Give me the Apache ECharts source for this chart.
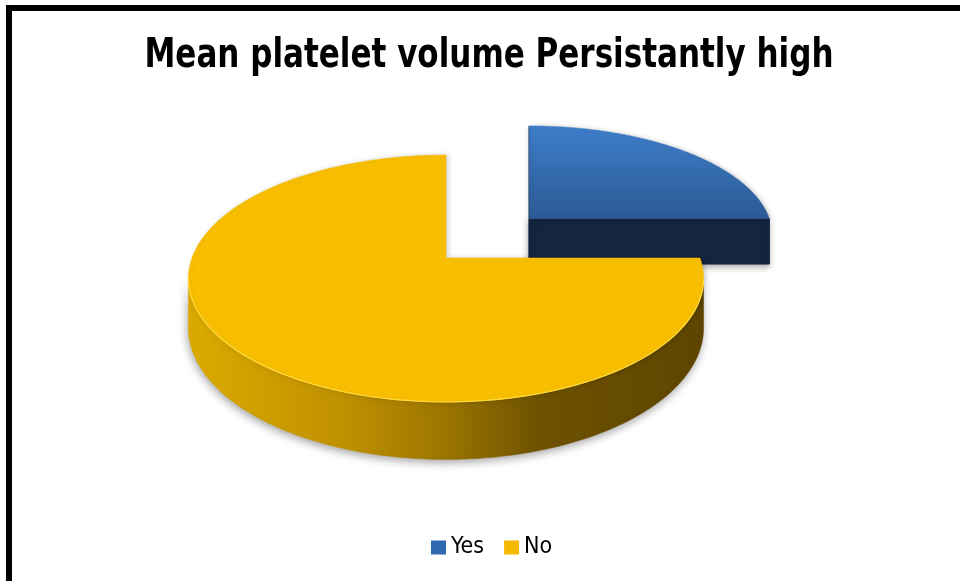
<!DOCTYPE html>
<html><head><meta charset="utf-8">
<script src="https://cdn.jsdelivr.net/npm/echarts@6/dist/echarts.min.js"></script>
<style>html,body{margin:0;padding:0;background:#fff}#c{width:960px;height:581px}</style>
</head><body><div id="c"></div>
<script>
// ---- data ----
const categories = ['Yes', 'No'];
const values = [25, 75];
const titleText = 'Mean platelet volume Persistantly high';

// ---- styles / geometry (not data) ----
const FONT = '"Liberation Sans Narrow", "DejaVu Sans Condensed", "Arial Narrow", sans-serif';
const CX = 446, AY = 258, RX = 254, A = 120, B = 0.166, H = 48;
const explode = [0.49, 0];
const legendColors = ['#2f69b0', '#f4b800'];
const G = echarts.graphic;
const topFills = [
  new G.LinearGradient(0, 125, 0, 218, [{offset:0,color:'#3e7eca'},{offset:1,color:'#2c5a96'}], true),
  '#f9be00'
];
const wallFills = [
  '#14253f',
  new G.LinearGradient(188, 0, 704, 0, [
    {offset:0,color:'#dcab00'},{offset:0.3,color:'#c09100'},{offset:0.5,color:'#9b7500'},
    {offset:0.68,color:'#6e5200'},{offset:1,color:'#5e4500'}], true)
];
const radialFills = ['#14253f', '#8a6a00'];
const edgeColors = ['#4a8ad6', '#ffd83a'];

const total = values.reduce((a, b) => a + b, 0);

function makeRender(i) {
  return function () {
    let cum = 0;
    for (let j = 0; j < i; j++) cum += values[j];
    const a0 = 2 * Math.PI * cum / total;
    const a1 = a0 + 2 * Math.PI * values[i] / total;
    const mid = (a0 + a1) / 2;
    const ex = explode[i] * Math.sin(mid), ez = explode[i] * Math.cos(mid);
    const apexX = CX + RX * ex / (1 + B * ez);
    const proj = (X, Z, d) => {
      const k = 1 / (1 + B * Z);
      return [apexX + RX * (X - ex) * k, AY - A * Z * k + (d ? H * k : 0)];
    };
    const P = (t, d) => proj(ex + Math.sin(t), ez + Math.cos(t), d);
    const apexT = proj(ex, ez, false), apexD = proj(ex, ez, true);
    const N = 180;
    const ts = [];
    for (let s = 0; s <= N; s++) ts.push(a0 + (a1 - a0) * s / N);
    const children = [];
    const camX = 0, camZ = -1 / B;
    // radial faces
    [[a0, -1], [a1, 1]].forEach(([a, sgn]) => {
      const nx = sgn * Math.cos(a), nz = -sgn * Math.sin(a);
      const px = ex + 0.5 * Math.sin(a), pz = ez + 0.5 * Math.cos(a);
      if (nx * (camX - px) + nz * (camZ - pz) > 0.01) {
        children.push({type:'polygon', shape:{points:[apexT, P(a,false), P(a,true), apexD]},
          style:{fill: radialFills[i], stroke: radialFills[i], lineWidth:1,
            shadowBlur:6, shadowColor:'rgba(0,0,0,0.3)', shadowOffsetY:3}});
      }
    });
    // outer wall: visible where screen x decreases along clockwise travel
    let run = [];
    const runs = [];
    for (let s = 0; s < N; s++) {
      const p = P(ts[s], false), q = P(ts[s + 1], false);
      if (q[0] < p[0]) { if (!run.length) run.push(s); run.push(s + 1); }
      else if (run.length) { runs.push(run); run = []; }
    }
    if (run.length) runs.push(run);
    runs.forEach(r => {
      const top = r.map(s => P(ts[s], false));
      const bot = r.map(s => P(ts[s], true)).reverse();
      children.push({type:'polygon', shape:{points: top.concat(bot)},
        style:{fill: wallFills[i], stroke: wallFills[i], lineWidth:0.5,
          shadowBlur:8, shadowColor:'rgba(0,0,0,0.35)', shadowOffsetY:3, shadowOffsetX:-1}});
    });
    // top face
    const topPts = [apexT].concat(ts.map(t => P(t, false)));
    children.push({type:'polygon', shape:{points: topPts},
      style:{fill: topFills[i], stroke: topFills[i], lineWidth:0.5,
        shadowBlur:4, shadowColor:'rgba(0,0,0,0.18)', shadowOffsetX:2}});
    // front edge highlight
    runs.forEach(r => {
      children.push({type:'polyline', shape:{points: r.map(s => P(ts[s], false))},
        style:{fill:null, stroke: edgeColors[i], lineWidth:1.3}});
    });
    return {type:'group', children};
  };
}

const chart = echarts.init(document.getElementById('c'));
chart.setOption({
  animation: false,
  backgroundColor: '#fff',
  legend: {
    data: categories.map((n, i) => ({name: n, itemStyle: {color: legendColors[i]}})),
    left: 431, top: 536, padding: 0, icon: 'rect', itemWidth: 15, itemHeight: 14, itemGap: 20,
    selectedMode: false,
    textStyle: {fontFamily: FONT, fontSize: 23, color: '#000'}
  },
  graphic: [{
    type: 'text', silent: true, x: 489, y: 37, scaleX: 0.862,
    style: {text: titleText, font: 'bold 40px ' + FONT, fill: '#000', align: 'center', verticalAlign: 'top'}
  }, {
    type: 'rect', silent: true, z: 100,
    shape: {x: 9, y: 8, width: 1200, height: 1000},
    style: {fill: 'none', stroke: '#000', lineWidth: 6}
  }],
  series: categories.map((name, i) => ({
    type: 'custom', name, coordinateSystem: 'none', silent: true,
    itemStyle: {color: legendColors[i]},
    data: [[values[i]]],
    renderItem: makeRender(i)
  }))
});
</script></body></html>
